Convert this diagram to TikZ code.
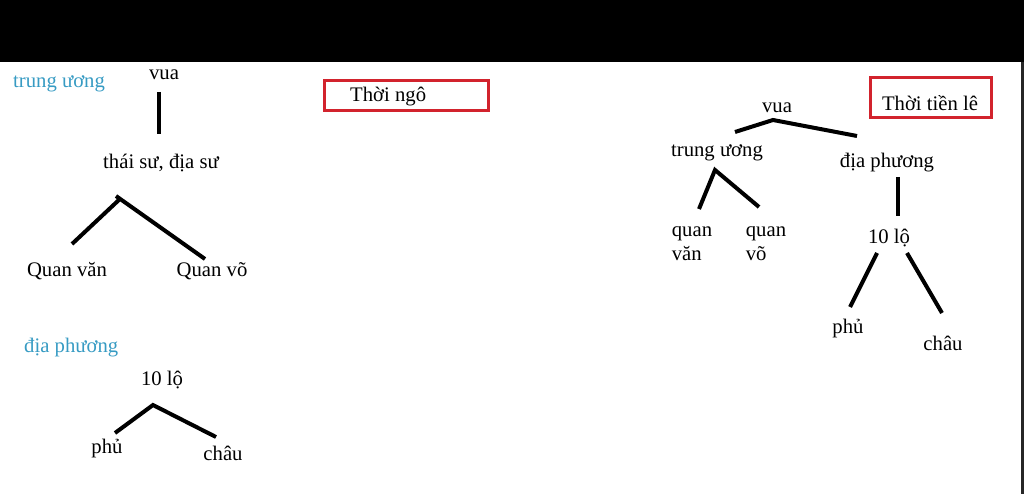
\documentclass[tikz,border=0pt]{standalone}
\usepackage{fontspec}
\setmainfont{Liberation Serif}
\definecolor{tblue}{RGB}{55,155,195}
\definecolor{tred}{RGB}{210,35,45}
\begin{document}
\begin{tikzpicture}[x=1pt,y=-1pt,
  lbl/.style={inner sep=0pt,font=\fontsize{20.7}{24}\selectfont},
  blbl/.style={lbl,text=tblue},
  conn/.style={line width=4pt,black},
  redbox/.style={draw=tred,line width=3pt}]
\useasboundingbox (0,0) rectangle (1024,494);
\fill[black] (0,0) rectangle (1024,62);
\fill[black!85] (1021,62) rectangle (1024,494);
% left: Thoi ngo
\node[blbl,anchor=west] (tu) at (13,84) {trung ương};
\node[lbl] (vua1) at (164,75) {vua};
\node[lbl] (ts) at (161,163) {thái sư, địa sư};
\node[lbl] (qv1) at (67,271) {Quan văn};
\node[lbl] (qvo1) at (212,271) {Quan võ};
\coordinate (a1) at (159,92); \coordinate (a2) at (159,134);
\draw[conn] (a1) -- (a2);
\coordinate (p1) at (121,198); \coordinate (p1b) at (116,196);
\coordinate (l1) at (72,244); \coordinate (r1) at (205,259);
\draw[conn] (l1) -- (p1);
\draw[conn] (p1b) -- (r1);
\node[redbox,minimum width=164pt,minimum height=30pt] (box1) at (406,96) {};
\node[lbl,anchor=west] (tn) at (350,97) {Thời ngô};
\node[blbl,anchor=west] (dp1) at (24,348) {địa phương};
\node[lbl] (lo1) at (162,380) {10 lộ};
\node[lbl] (ph1) at (107,449) {phủ};
\node[lbl] (ch1) at (223,453) {châu};
\coordinate (p2) at (153,405); \coordinate (l2) at (115,433); \coordinate (r2) at (216,437);
\draw[conn] (l2) -- (p2) -- (r2);
% right: Thoi tien le
\node[redbox,minimum width=121pt,minimum height=40pt] (box2) at (930.5,98) {};
\node[lbl] (ttl) at (930,103) {Thời tiền lê};
\node[lbl] (vua2) at (777,108) {vua};
\coordinate (p3) at (773,120); \coordinate (l3) at (735,132); \coordinate (r3) at (857,136);
\draw[conn] (l3) -- (p3) -- (r3);
\node[lbl] (tu2) at (717,153) {trung ương};
\node[lbl] (dp2) at (887,163) {địa phương};
\coordinate (p4) at (715,170); \coordinate (l4) at (699,209); \coordinate (r4) at (759,207);
\draw[conn] (l4) -- (p4) -- (r4);
\node[lbl,align=left] (qv2) at (692,244) {quan\\văn};
\node[lbl,align=left] (qvo2) at (766,244) {quan\\võ};
\coordinate (v1) at (898,177); \coordinate (v2) at (898,216);
\draw[conn] (v1) -- (v2);
\node[lbl] (lo2) at (889,238) {10 lộ};
\coordinate (s1) at (877,253); \coordinate (e1) at (850,307);
\coordinate (s2) at (907,253); \coordinate (e2) at (942,313);
\draw[conn] (s1) -- (e1);
\draw[conn] (s2) -- (e2);
\node[lbl] (ph2) at (848,329) {phủ};
\node[lbl] (ch2) at (943,343) {châu};
\end{tikzpicture}
\end{document}
